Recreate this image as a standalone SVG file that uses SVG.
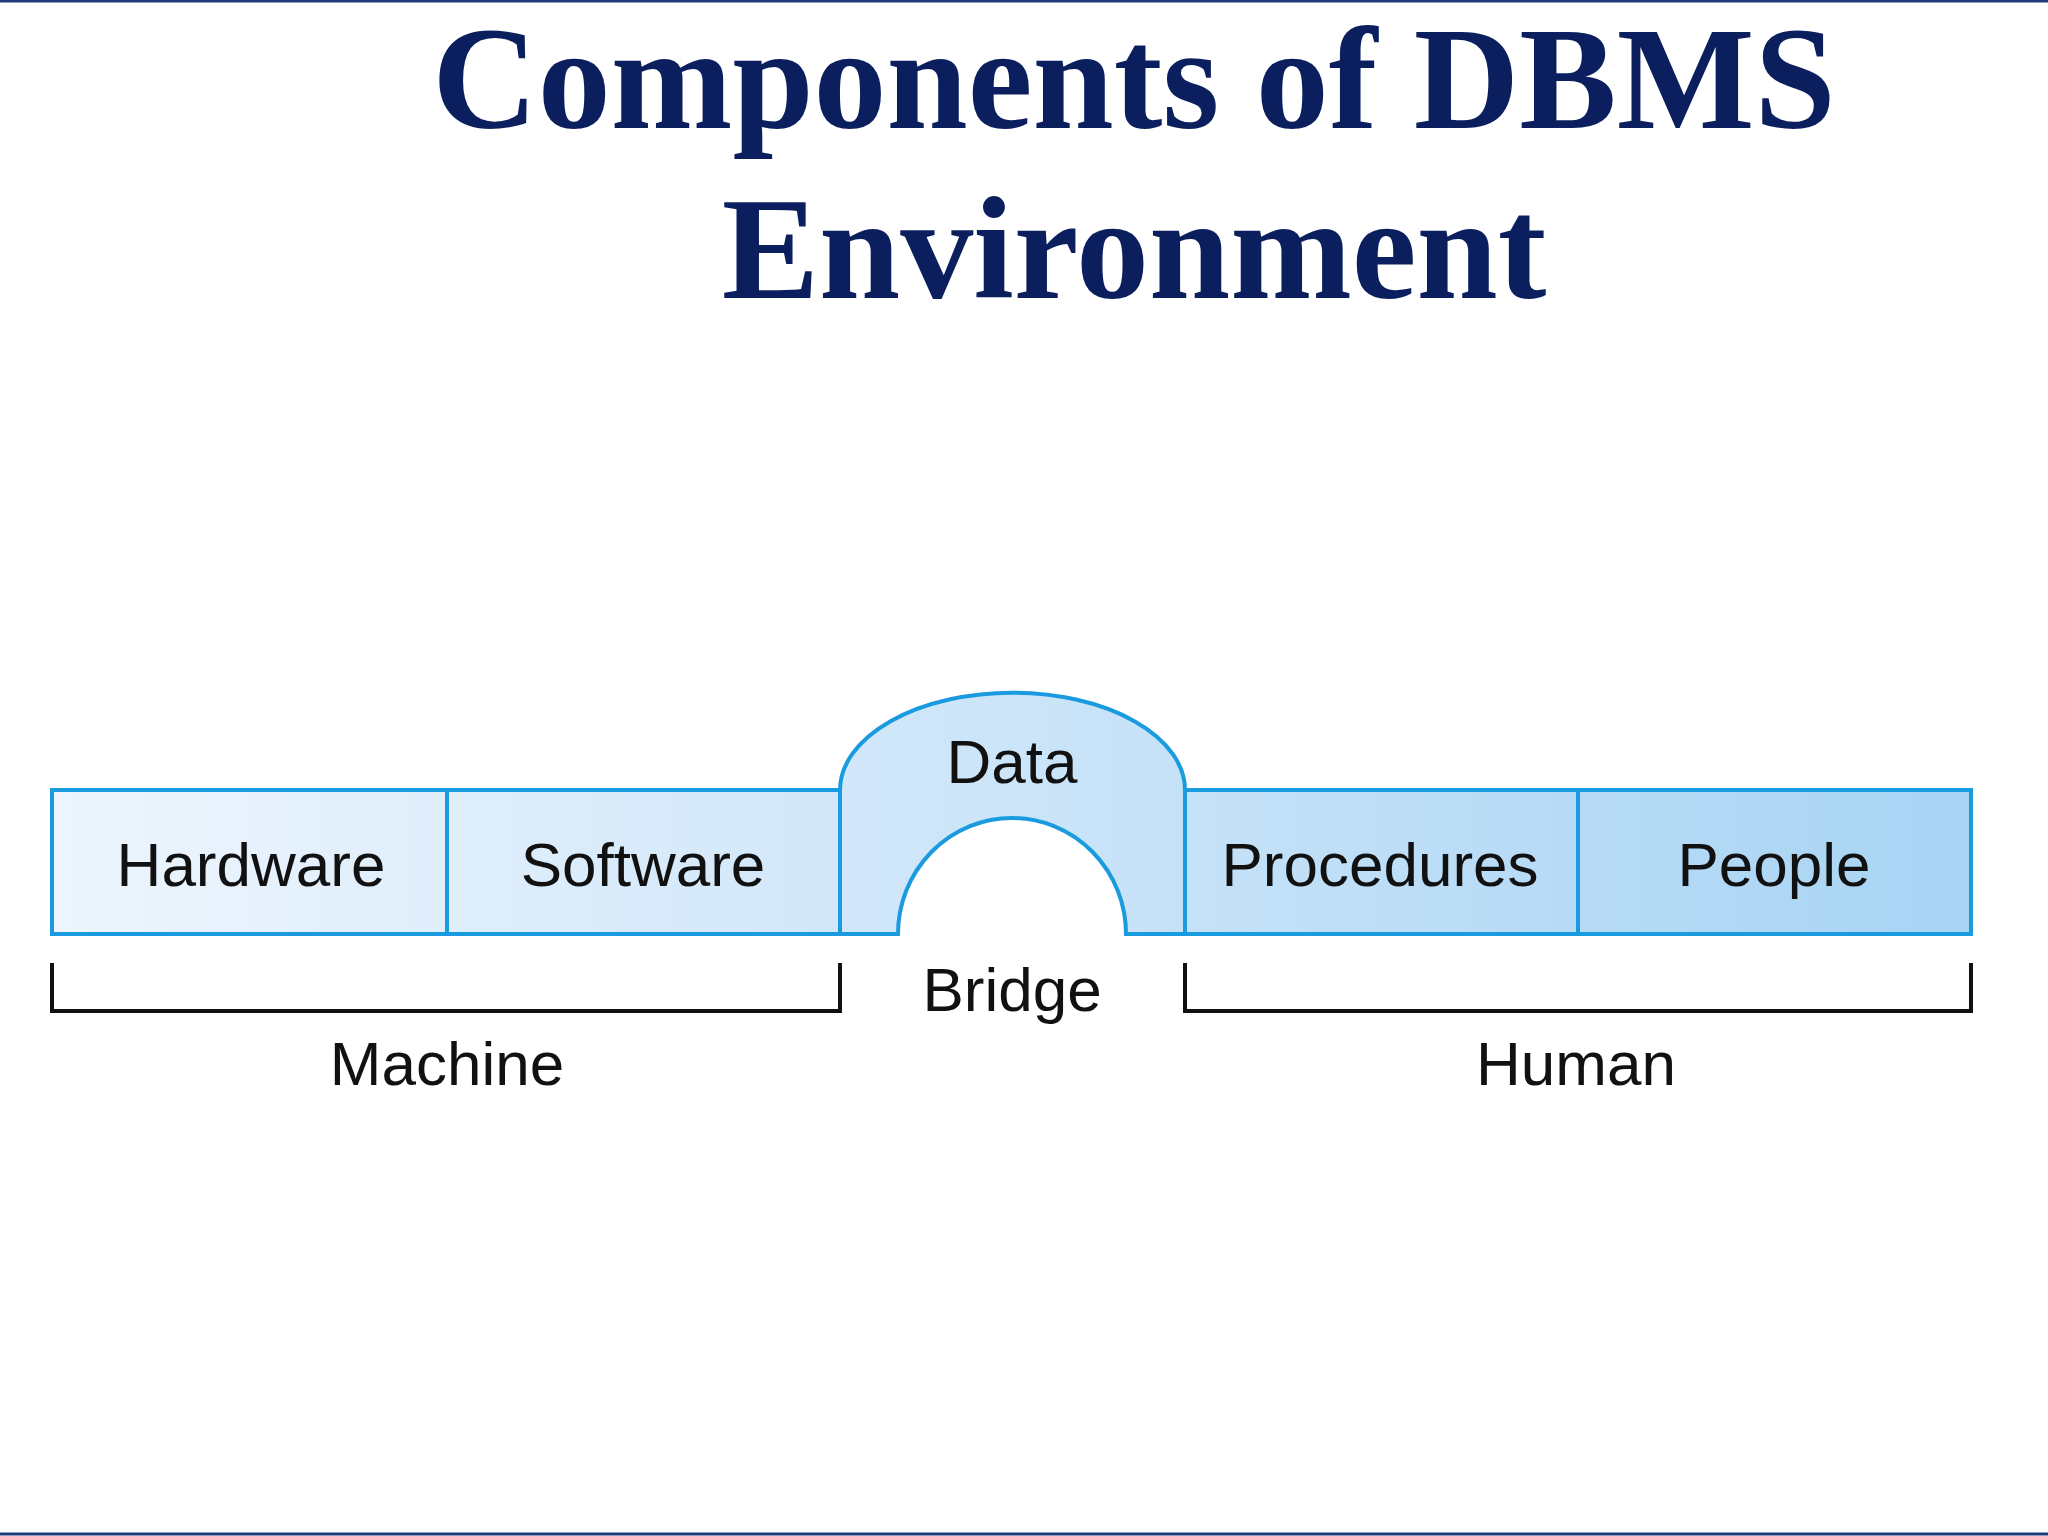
<svg xmlns="http://www.w3.org/2000/svg" width="2048" height="1536" viewBox="0 0 2048 1536">
<defs>
<linearGradient id="g" gradientUnits="userSpaceOnUse" x1="52" y1="0" x2="1971" y2="0">
<stop offset="0" stop-color="#edf5fd"/><stop offset="0.45" stop-color="#cfe6f9"/><stop offset="1" stop-color="#a8d4f4"/>
</linearGradient>
<style>
.b{fill:url(#g);stroke:#1a9be0;stroke-width:4}
.t{font-family:"Liberation Sans",Arial,sans-serif;font-size:62px;fill:#111;text-anchor:middle}
.k{fill:none;stroke:#111;stroke-width:4}
.h{font-family:"Liberation Serif","Times New Roman",serif;font-weight:bold;font-size:146px;fill:#0b1f5e;text-anchor:middle}
</style>
</defs>
<rect width="2048" height="1536" fill="#fff"/>
<line x1="0" y1="1" x2="2048" y2="1" stroke="#1f3a7a" stroke-width="3"/>
<line x1="0" y1="1534" x2="2048" y2="1534" stroke="#1f3a7a" stroke-width="3"/>
<text class="h" x="1134" y="128">Components of DBMS</text>
<text class="h" x="1134" y="298">Environment</text>
<g id="hardware"><rect class="b" x="52" y="790" width="395" height="144"/><text class="t" x="251" y="886">Hardware</text></g>
<g id="software"><rect class="b" x="447" y="790" width="393" height="144"/><text class="t" x="643" y="886">Software</text></g>
<g id="data"><path class="b" d="M840,934 L840,790 A172,97 0 0 1 1185,790 L1185,934 L1126,934 A114,116 0 0 0 898,934 Z"/><text class="t" x="1012" y="783">Data</text></g>
<g id="procedures"><rect class="b" x="1185" y="790" width="393" height="144"/><text class="t" x="1380" y="886">Procedures</text></g>
<g id="people"><rect class="b" x="1578" y="790" width="393" height="144"/><text class="t" x="1774" y="886">People</text></g>
<g id="connectors">
<path class="k" d="M52,963 V1011 H840 V963"/>
<path class="k" d="M1185,963 V1011 H1971 V963"/>
</g>
<text class="t" x="1012" y="1011">Bridge</text>
<text class="t" x="447" y="1085">Machine</text>
<text class="t" x="1576" y="1085">Human</text>
</svg>
